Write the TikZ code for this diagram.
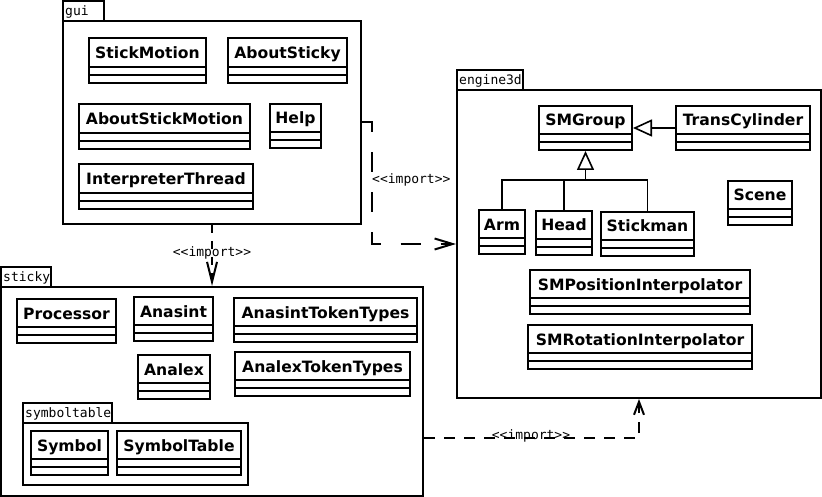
\documentclass[tikz,border=0pt]{standalone}
\usepackage{fontspec}
\setmainfont{DejaVu Sans}
\newfontfamily\monof{DejaVu Sans Mono}
\usetikzlibrary{arrows.meta,calc}

\tikzset{
  clsbox/.style={draw, line width=2pt, fill=white, inner sep=0pt},
  clsline/.style={line width=2pt},
  clsname/.style={font=\fontsize{15.6}{18}\selectfont\bfseries, inner sep=0pt},
  pkgbox/.style={draw, line width=2pt, fill=white, inner sep=0pt},
  tablabel/.style={font=\monof\fontsize{13}{15}\selectfont, inner sep=0pt},
  implabel/.style={font=\monof\fontsize{13}{15}\selectfont, inner sep=0pt},
  genline/.style={line width=1.6pt},
  gentip/.style={-{Triangle[open, length=19pt, width=17pt, fill=white]}},
  depline/.style={line width=2pt},
}

% class: name, label, x1, y1, x2, y2
\newcommand\umlc[6]{%
  \node[clsbox, minimum width={#5pt-#3pt}, minimum height={#6pt-#4pt}] (#1) at ({(#3+#5)/2},{(#4+#6)/2}) {};
  \draw[clsline] (#3,#6-16) -- (#5,#6-16);
  \draw[clsline] (#3,#6-8) -- (#5,#6-8);
  \node[clsname, anchor=base] (#1-n) at ({(#3+#5)/2},{(#4+#6-16)/2+6}) {#2};
}
% package: name, label, x1, ytab, xtab2, ybody, x2, y2
\newcommand\umlpkg[8]{%
  \node[pkgbox, minimum width={#5pt-#3pt}, minimum height={#6pt-#4pt}] (#1-tab) at ({(#3+#5)/2},{(#4+#6)/2}) {};
  \node[tablabel, anchor=base west] (#1-label) at (#3+2,#4+14.5) {#2};
  \node[pkgbox, minimum width={#7pt-#3pt}, minimum height={#8pt-#6pt}] (#1) at ({(#3+#7)/2},{(#6+#8)/2}) {};
}

\begin{document}
\begin{tikzpicture}[x=1pt, y=-1pt]
\useasboundingbox (0,0) rectangle (822,497);
\fill[white] (0,0) rectangle (822,497);

% packages
\umlpkg{gui}{gui}{63}{1}{104}{21}{361}{224}
\umlpkg{engine}{engine3d}{457}{70}{523}{90}{821}{398}
\umlpkg{sticky}{sticky}{1}{267}{51}{287}{423}{496}
\umlpkg{symtab}{symboltable}{23}{403}{112}{423}{248}{485}

% gui classes
\umlc{stickmotion}{StickMotion}{89}{38}{206}{83}
\umlc{aboutsticky}{AboutSticky}{228}{38}{347}{83}
\umlc{aboutstickmotion}{AboutStickMotion}{79}{104}{250}{149}
\umlc{help}{Help}{270}{104}{321}{148}
\umlc{interp}{InterpreterThread}{79}{164}{253}{209}

% engine3d classes
\umlc{smgroup}{SMGroup}{539}{106}{632}{150}
\umlc{transcyl}{TransCylinder}{676}{106}{810}{150}
\umlc{scene}{Scene}{728}{181}{792}{225}
\umlc{arm}{Arm}{479}{210}{525}{254}
\umlc{head}{Head}{536}{211}{592}{255}
\umlc{stickman}{Stickman}{601}{212}{694}{256}
\umlc{smpos}{SMPositionInterpolator}{530}{270}{750}{314}
\umlc{smrot}{SMRotationInterpolator}{528}{325}{752}{369}

% sticky classes
\umlc{processor}{Processor}{17}{299}{116}{343}
\umlc{anasint}{Anasint}{134}{297}{213}{341}
\umlc{anasinttt}{AnasintTokenTypes}{234}{298}{417}{342}
\umlc{analex}{Analex}{138}{355}{210}{399}
\umlc{analextt}{AnalexTokenTypes}{235}{352}{410}{396}
\umlc{symbol}{Symbol}{31}{431}{108}{475}
\umlc{symboltable}{SymbolTable}{117}{431}{241}{475}

% generalizations
\draw[genline, gentip] (transcyl.west) -- (smgroup.east);
\coordinate (junc) at (smgroup.south |- 0,180);
\draw[genline] (arm.north) |- (junc);
\draw[genline] (head.north) |- (junc);
\draw[genline] (stickman.north) |- (junc);
\draw[genline, gentip] (junc) -- (smgroup.south);

% dependencies
\draw[depline, dash pattern=on 20pt off 20pt, -{Straight Barb[length=18pt, width=11pt]}]
  (gui.east) -- ++(10,0) |- (engine.west);
\node[implabel, anchor=base west] (lab1) at (372,184) {<<import>>};

\draw[depline, dash pattern=on 8pt off 8pt, -{Straight Barb[length=20pt, width=10pt]}]
  (gui.south) -- (sticky.north);
\node[implabel, anchor=base] (lab2) at (212,257) {<<import>>};

\draw[depline, dash pattern=on 11pt off 9pt, -{Straight Barb[length=13pt, width=10pt]}]
  ([yshift=-46.5pt]sticky.east) -| (engine.south);
\node[implabel, anchor=base] (lab3) at (531,439) {<<import>>};
\end{tikzpicture}
\end{document}
